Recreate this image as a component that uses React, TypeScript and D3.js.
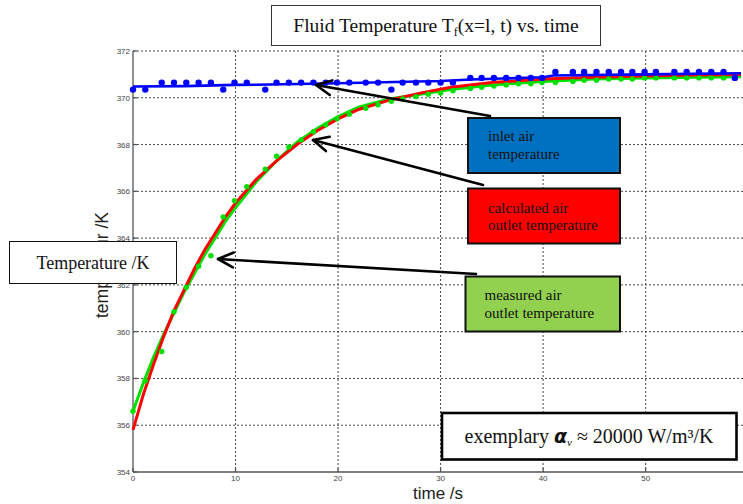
import React from 'react';
import * as d3 from 'd3';

// time stamps of the measured samples (s)
const sampleTimes = [0, 1.2, 2.8, 4.0, 5.2, 6.4, 7.6, 8.8, 9.9, 11.1, 12.9, 14.0, 15.2, 16.4, 17.6, 18.8, 19.9, 21.1, 22.7, 23.9, 25.2, 26.3, 27.6, 28.8, 30.0, 31.2, 32.9, 34.0, 35.2, 36.4, 37.6, 38.8, 39.9, 41.2, 42.9, 44.0, 45.2, 46.4, 47.6, 48.7, 49.9, 51.0, 52.8, 54.0, 55.2, 56.4, 57.6, 58.7];
// inlet air temperature, measured (K)
const inletMeasured = [370.35, 370.35, 370.65, 370.65, 370.65, 370.65, 370.65, 370.35, 370.65, 370.65, 370.35, 370.65, 370.65, 370.65, 370.65, 370.65, 370.65, 370.65, 370.65, 370.65, 370.35, 370.65, 370.65, 370.65, 370.65, 370.65, 370.85, 370.85, 370.85, 370.85, 370.85, 370.85, 370.85, 371.1, 371.1, 371.1, 371.1, 371.1, 371.1, 371.1, 371.1, 371.1, 371.1, 371.1, 371.1, 371.1, 371.1, 370.85];
// outlet air temperature, measured (K)
const outletMeasured = [356.6, 357.9, 359.15, 360.85, 361.9, 362.8, 363.25, 364.9, 365.6, 366.2, 366.95, 367.5, 367.9, 368.2, 368.55, 368.85, 369.1, 369.3, 369.55, 369.7, 369.85, 369.95, 370.05, 370.15, 370.2, 370.3, 370.4, 370.45, 370.5, 370.55, 370.6, 370.6, 370.65, 370.65, 370.7, 370.75, 370.75, 370.8, 370.8, 370.8, 370.85, 370.85, 370.85, 370.85, 370.85, 370.85, 370.85, 370.85];

// smoothed inlet curve
const inletFitT = [0, 5, 10, 12, 20, 30, 33, 40, 41, 50, 59.3];
const inletFitV = [370.48, 370.5, 370.55, 370.56, 370.62, 370.72, 370.78, 370.88, 370.95, 371.0, 371.05];

// calculated / smoothed outlet curves
const curveT = [0, 1, 2, 3, 4, 5, 6, 7, 8, 9, 10, 12, 14, 16, 18, 20, 22, 25, 28, 31, 35, 40, 45, 50, 55, 59.3];
const outletCalc = [355.8, 357.3, 358.6, 359.8, 360.9, 361.8, 362.7, 363.5, 364.2, 364.9, 365.5, 366.5, 367.3, 368.0, 368.6, 369.1, 369.5, 369.9, 370.2, 370.45, 370.65, 370.8, 370.88, 370.93, 370.97, 371.0];
const outletSmooth = [356.6, 357.8, 358.9, 359.9, 360.8, 361.7, 362.5, 363.3, 364.0, 364.7, 365.3, 366.4, 367.3, 368.1, 368.7, 369.2, 369.6, 369.95, 370.15, 370.35, 370.55, 370.7, 370.8, 370.85, 370.88, 370.9];

const xTicks = [0, 10, 20, 30, 40, 50];
const yTicks = [354, 356, 358, 360, 362, 364, 366, 368, 370, 372];

const W = 743;
const H = 504;
const serif = '"Liberation Serif", "Times New Roman", serif';
const sans = '"Liberation Sans", Arial, sans-serif';

const Arrow = ({ x1, y1, x2, y2 }: { x1: number; y1: number; x2: number; y2: number }) => {
  const ang = Math.atan2(y1 - y2, x1 - x2);
  const len = 17;
  const spread = 0.45;
  const a = [x2 + len * Math.cos(ang + spread), y2 + len * Math.sin(ang + spread)];
  const b = [x2 + len * Math.cos(ang - spread), y2 + len * Math.sin(ang - spread)];
  return (
    <g stroke="#000" strokeWidth={2.6} fill="none" strokeLinecap="round" strokeLinejoin="round">
      <line x1={x1} y1={y1} x2={x2} y2={y2} />
      <polyline points={`${a[0]},${a[1]} ${x2},${y2} ${b[0]},${b[1]}`} />
    </g>
  );
};

export default function App() {
  const x = d3.scaleLinear().domain([0, 59.3]).range([133, 741]);
  const y = d3.scaleLinear().domain([354, 372]).range([472, 51]);
  const line = d3.line<[number, number]>().x(d => x(d[0])).y(d => y(d[1]));

  const inletFit = inletFitT.map((t, i) => [t, inletFitV[i]] as [number, number]);
  const calc = curveT.map((t, i) => [t, outletCalc[i]] as [number, number]);
  const smooth = curveT.map((t, i) => [t, outletSmooth[i]] as [number, number]);

  return (
    <svg width={W} height={H} style={{ position: 'absolute', left: 0, top: 0, background: '#fff' }}>
      {/* grid */}
      <g stroke="#333" strokeWidth={0.9} strokeDasharray="2,2">
        {yTicks.slice(1).map(v => (
          <line key={'gy' + v} x1={x(0)} x2={W} y1={y(v)} y2={y(v)} />
        ))}
        {xTicks.slice(1).map(v => (
          <line key={'gx' + v} x1={x(v)} x2={x(v)} y1={y(372)} y2={y(354)} />
        ))}
      </g>
      {/* axes */}
      <g stroke="#555" strokeWidth={1.3}>
        <line x1={x(0)} x2={x(0)} y1={y(372)} y2={y(354)} />
        <line x1={x(0)} x2={W} y1={y(354)} y2={y(354)} />
        {xTicks.map(v => (
          <line key={'tx' + v} x1={x(v)} x2={x(v)} y1={y(354)} y2={y(354) - 4} />
        ))}
        {yTicks.map(v => (
          <line key={'ty' + v} x1={x(0)} x2={x(0) + 4} y1={y(v)} y2={y(v)} />
        ))}
      </g>
      <g fontFamily={sans} fontSize={8} fill="#444">
        {yTicks.map(v => (
          <text key={'ly' + v} x={x(0) - 3} y={y(v) + 3} textAnchor="end">{v}</text>
        ))}
        {xTicks.map(v => (
          <text key={'lx' + v} x={x(v)} y={y(354) + 9} textAnchor="middle">{v}</text>
        ))}
      </g>
      <text x={(x(0) + W) / 2} y={499} textAnchor="middle" fontFamily={sans} fontSize={17} fill="#222">time /s</text>
      <text transform={`translate(108,265) rotate(-90)`} textAnchor="middle" fontFamily={sans} fontSize={17.5} fill="#222">temperatur /K</text>

      {/* data */}
      <path d={line(smooth) || ''} fill="none" stroke="#00e000" strokeWidth={3} />
      <path d={line(calc) || ''} fill="none" stroke="#ff0000" strokeWidth={3} />
      {sampleTimes.map((t, i) => (
        <circle key={'g' + i} cx={x(t)} cy={y(outletMeasured[i])} r={2.7} fill="#00e000" />
      ))}
      <path d={line(inletFit) || ''} fill="none" stroke="#0000ff" strokeWidth={2.6} />
      {sampleTimes.map((t, i) => (
        <circle key={'b' + i} cx={x(t)} cy={y(inletMeasured[i])} r={3.2} fill="#0000ff" />
      ))}

      {/* title */}
      <rect x={271.5} y={5.5} width={329} height={40} fill="#fff" stroke="#333" strokeWidth={1} />
      <text x={436} y={32} textAnchor="middle" fontFamily={serif} fontSize={19.5} fill="#111">
        Fluid Temperature T<tspan fontSize={12} dy={4}>f</tspan><tspan dy={-4}>(x=l, t) vs. time</tspan>
      </text>

      {/* y label box */}
      <rect x={9.5} y={241.5} width={167} height={42} fill="#fff" stroke="#111" strokeWidth={1} />
      <text x={93} y={269} textAnchor="middle" fontFamily={serif} fontSize={18} fill="#111">Temperature /K</text>

      {/* arrows */}
      <Arrow x1={490} y1={116} x2={316} y2={85} />
      <Arrow x1={483} y1={185} x2={313} y2={140} />
      <Arrow x1={476} y1={274} x2={218} y2={259} />

      {/* legend boxes */}
      <rect x={468} y={118} width={152} height={55} fill="#0070c0" stroke="#111" strokeWidth={2} />
      <text fontFamily={serif} fontSize={15} fill="#111">
        <tspan x={488} y={141}>inlet air</tspan>
        <tspan x={488} y={159}>temperature</tspan>
      </text>
      <rect x={468} y={188.5} width={152} height={55} fill="#ff0000" stroke="#111" strokeWidth={2} />
      <text fontFamily={serif} fontSize={15} fill="#111">
        <tspan x={488} y={212.5}>calculated air</tspan>
        <tspan x={488} y={229.5}>outlet temperature</tspan>
      </text>
      <rect x={465.5} y={276.5} width={154.5} height={55} fill="#92d050" stroke="#111" strokeWidth={2} />
      <text fontFamily={serif} fontSize={15} fill="#111">
        <tspan x={484.5} y={299.5}>measured air</tspan>
        <tspan x={484.5} y={317.5}>outlet temperature</tspan>
      </text>

      {/* parameter box */}
      <rect x={442} y={413} width={294.5} height={46.5} fill="#fff" stroke="#000" strokeWidth={2.6} />
      <text x={589} y={443} textAnchor="middle" fontFamily={serif} fontSize={20} fill="#111">
        exemplary <tspan fontFamily={'"DejaVu Sans", sans-serif'} fontStyle="italic" fontWeight="bold" fontSize={19}>α</tspan>
        <tspan fontStyle="italic" fontSize={11} dy={3}>v</tspan>
        <tspan dy={-3}> ≈ 20000 W/m³/K</tspan>
      </text>
    </svg>
  );
}
